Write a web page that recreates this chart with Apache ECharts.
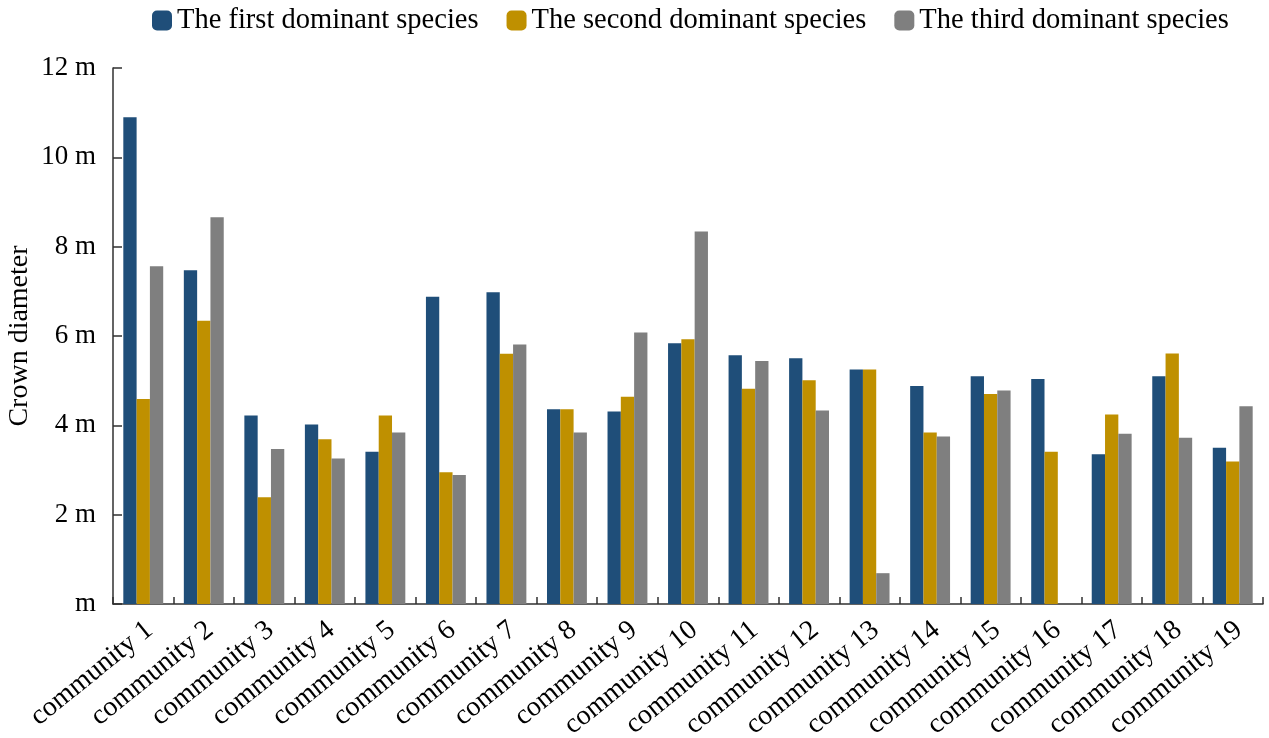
<!DOCTYPE html>
<html>
<head>
<meta charset="utf-8">
<title>Crown diameter by community</title>
<script src="https://cdn.jsdelivr.net/npm/echarts@6/dist/echarts.min.js"></script>
<style>
  html, body { margin: 0; padding: 0; background: #ffffff; }
  #chart { width: 1269px; height: 738px; }
</style>
</head>
<body>
<div id="chart"></div>
<script>
// Communities along the x axis
const categories = [
  'community 1', 'community 2', 'community 3', 'community 4', 'community 5',
  'community 6', 'community 7', 'community 8', 'community 9', 'community 10',
  'community 11', 'community 12', 'community 13', 'community 14', 'community 15',
  'community 16', 'community 17', 'community 18', 'community 19'
];

// Crown diameter (m) of the three dominant species in each community
const firstSpecies  = [10.90, 7.47, 4.22, 4.02, 3.41, 6.88, 6.98, 4.36, 4.31, 5.84, 5.57, 5.50, 5.25, 4.88, 5.10, 5.04, 3.35, 5.10, 3.50];
const secondSpecies = [4.59, 6.34, 2.39, 3.69, 4.22, 2.95, 5.60, 4.36, 4.64, 5.93, 4.82, 5.01, 5.25, 3.84, 4.70, 3.41, 4.24, 5.61, 3.19];
const thirdSpecies  = [7.56, 8.66, 3.47, 3.26, 3.84, 2.89, 5.81, 3.84, 6.08, 8.34, 5.44, 4.33, 0.69, 3.75, 4.78, null, 3.81, 3.72, 4.43];

const seriesNames = ['The first dominant species', 'The second dominant species', 'The third dominant species'];

// Y axis range and step (m)
const yMin = 0;
const yMax = 12;
const yStep = 2;

const FONT = "'Liberation Serif', 'Times New Roman', serif";
const colors = ['#1f4e79', '#bf9000', '#7f7f7f'];

const chart = echarts.init(document.getElementById('chart'), null, { renderer: 'canvas' });

const barSeries = [firstSpecies, secondSpecies, thirdSpecies].map((values, i) => ({
  name: seriesNames[i],
  type: 'bar',
  data: values,
  barWidth: 13.3,
  barGap: '0%',
  itemStyle: { color: colors[i] }
}));

chart.setOption({
  animation: false,
  color: colors,
  textStyle: { fontFamily: FONT, color: '#000' },
  legend: {
    data: seriesNames,
    left: 152,
    top: 6,
    padding: 0,
    itemWidth: 20,
    itemHeight: 20,
    itemGap: 28,
    icon: 'roundRect',
    textStyle: { fontFamily: FONT, fontSize: 28.5, color: '#000' }
  },
  grid: { left: 113, right: 6, top: 68, bottom: 134, containLabel: false, outerBoundsMode: 'none' },
  xAxis: {
    type: 'category',
    data: categories,
    boundaryGap: true,
    axisLine: { show: true, lineStyle: { color: '#303030', width: 1.5 } },
    axisTick: { show: true, inside: true, length: 7, lineStyle: { color: '#303030', width: 1.5 } },
    axisLabel: {
      interval: 0,
      rotate: 39,
      margin: 15,
      verticalAlign: 'top',
      lineHeight: 20,
      fontFamily: FONT,
      fontSize: 28,
      color: '#000'
    }
  },
  yAxis: {
    type: 'value',
    min: yMin,
    max: yMax,
    interval: yStep,
    name: 'Crown diameter',
    nameLocation: 'middle',
    nameGap: 79,
    nameMoveOverlap: false,
    nameTextStyle: { fontFamily: FONT, fontSize: 28, color: '#000' },
    axisLine: { show: true, lineStyle: { color: '#303030', width: 1.5 } },
    axisTick: { show: true, inside: true, length: 9, lineStyle: { color: '#303030', width: 1.5 } },
    splitLine: { show: false },
    axisLabel: {
      margin: 17,
      fontFamily: FONT,
      fontSize: 27,
      color: '#000',
      formatter: v => (v === 0 ? 'm' : v + ' m')
    }
  },
  series: barSeries
});
</script>
</body>
</html>
